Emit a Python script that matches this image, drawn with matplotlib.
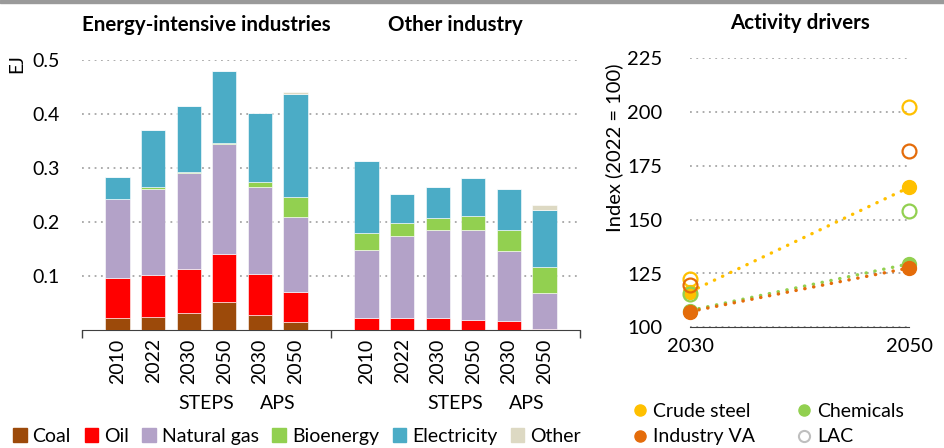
import numpy as np
import matplotlib.pyplot as plt
from matplotlib.lines import Line2D
from matplotlib.patches import Patch, Rectangle

plt.rcParams['font.family'] = ['Lato', 'DejaVu Sans']

# final energy use (EJ) by fuel, bars: 2010, 2022, 2030/2050 STEPS, 2030/2050 APS
years = ['2010', '2022', '2030', '2050', '2030', '2050']
fuels = ['Coal', 'Oil', 'Natural gas', 'Bioenergy', 'Electricity', 'Other']
fuel_colors = ['#9C4A0A', '#FF0000', '#B3A2C8', '#92D050', '#4BACC6', '#DDD9C3']

eii_coal = [0.022, 0.024, 0.032, 0.052, 0.028, 0.014]
eii_oil = [0.075, 0.078, 0.081, 0.089, 0.075, 0.056]
eii_gas = [0.145, 0.160, 0.177, 0.203, 0.161, 0.140]
eii_bio = [0.001, 0.002, 0.002, 0.003, 0.010, 0.036]
eii_elec = [0.041, 0.106, 0.122, 0.132, 0.127, 0.191]
eii_other = [0.0, 0.0, 0.0, 0.0, 0.0, 0.004]

oth_coal = [0.0, 0.0, 0.0, 0.0, 0.0, 0.0]
oth_oil = [0.023, 0.023, 0.022, 0.019, 0.017, 0.002]
oth_gas = [0.126, 0.151, 0.163, 0.166, 0.130, 0.067]
oth_bio = [0.031, 0.024, 0.023, 0.026, 0.039, 0.047]
oth_elec = [0.133, 0.053, 0.057, 0.070, 0.075, 0.106]
oth_other = [0.0, 0.0, 0.0, 0.0, 0.0, 0.009]

# activity drivers, index 2022 = 100
drv_years = [2030, 2050]
steel_steps = [116.5, 165.0]
chem_steps = [107.8, 129.5]
va_steps = [107.3, 127.6]
steel_lac = [122.4, 202.5]
chem_lac = [115.3, 153.9]
va_lac = [119.7, 181.9]

c_steel = '#FFC000'
c_chem = '#92D050'
c_va = '#E46C0A'
grid_c = '#A6A6A6'

fig = plt.figure(figsize=(9.45, 4.48), dpi=100)
W, H = 945.0, 448.0

# gray rule along the top edge
fig.patches.append(Rectangle((0, 1 - 3 / H), 1, 3 / H, transform=fig.transFigure,
                             color='#9A9A9A', zorder=0))

# ---- left: stacked bars ----
ax = fig.add_axes([82 / W, 1 - 330 / H, (580 - 82) / W, 270 / H])
x1 = np.arange(6)
x2 = np.arange(6) + 7
groups = [
    (x1, [eii_coal, eii_oil, eii_gas, eii_bio, eii_elec, eii_other]),
    (x2, [oth_coal, oth_oil, oth_gas, oth_bio, oth_elec, oth_other]),
]
for xs, series in groups:
    bottom = np.zeros(6)
    for vals, col in zip(series, fuel_colors):
        ax.bar(xs, vals, 0.68, bottom=bottom, color=col, edgecolor='white',
               linewidth=0.4, zorder=3)
        bottom += np.array(vals)

ax.set_xlim(-1, 13)
ax.set_ylim(0, 0.5)
ax.set_yticks([0.1, 0.2, 0.3, 0.4, 0.5])
ax.set_yticklabels(['0.1', '0.2', '0.3', '0.4', '0.5'])
ax.yaxis.grid(True, color=grid_c, linestyle=(0, (1, 2.5)), linewidth=1.3)
ax.set_axisbelow(True)
ax.tick_params(axis='y', length=0, pad=16, labelsize=14)
ax.set_xticks(np.concatenate([x1, x2]))
ax.set_xticklabels(years + years, rotation=90)
ax.tick_params(axis='x', which='major', length=0, pad=6, labelsize=14)
ax.set_xticks([-1, 6, 13], minor=True)
ax.tick_params(axis='x', which='minor', length=6, width=1, color='#404040')
for s in ['top', 'right', 'left']:
    ax.spines[s].set_visible(False)
ax.spines['bottom'].set_color('#404040')

for xc, lab in [(2.5, 'STEPS'), (4.5, 'APS'), (9.5, 'STEPS'), (11.5, 'APS')]:
    ax.text(xc, -0.274, lab, transform=ax.get_xaxis_transform(), ha='center',
            va='center', fontsize=14)

ax.text(2.5, 1.13, 'Energy-intensive industries', transform=ax.get_xaxis_transform(),
        ha='center', va='center', fontsize=14.8, fontweight='bold')
ax.text(9.5, 1.13, 'Other industry', transform=ax.get_xaxis_transform(),
        ha='center', va='center', fontsize=14.8, fontweight='bold')
fig.text(17 / W, 1 - 64 / H, 'EJ', rotation=90, ha='center', va='center', fontsize=13.5)

handles = [Patch(color=c) for c in fuel_colors]
fig.legend(handles, fuels, loc='center', bbox_to_anchor=(297 / W, 1 - 436 / H),
           ncol=6, frameon=False, fontsize=14, handlelength=0.7, handleheight=0.7,
           handletextpad=0.3, columnspacing=0.7, borderaxespad=0)

# ---- right: activity drivers ----
bx = fig.add_axes([690 / W, 1 - 327.3 / H, (909 - 690) / W, 269 / H])
bx.set_xlim(2030, 2050)
bx.set_ylim(100, 225)
bx.set_yticks([100, 125, 150, 175, 200, 225])
bx.set_xticks(drv_years)
bx.yaxis.grid(True, color=grid_c, linestyle=(0, (1, 2.5)), linewidth=1.3)
bx.set_axisbelow(True)
bx.tick_params(axis='y', length=0, pad=20, labelsize=14.5)
bx.tick_params(axis='x', length=0, pad=8, labelsize=14.5)
for s in ['top', 'right', 'left']:
    bx.spines[s].set_visible(False)
bx.spines['bottom'].set_color('#404040')

dot = (0, (0.1, 2.6))
for vals, col in [(chem_steps, c_chem), (va_steps, c_va), (steel_steps, c_steel)]:
    bx.plot(drv_years, vals, linestyle=dot, color=col, linewidth=2.4,
            dash_capstyle='round', clip_on=False, zorder=3)
for vals, col in [(chem_steps, c_chem), (steel_steps, c_steel), (va_steps, c_va)]:
    bx.plot(drv_years, vals, 'o', color=col, markersize=10, linestyle='none',
            clip_on=False, zorder=4)
for vals, col in [(steel_lac, c_steel), (chem_lac, c_chem), (va_lac, c_va)]:
    bx.plot(drv_years, vals, 'o', markerfacecolor='none', markeredgecolor=col,
            markersize=10, markeredgewidth=1.6, linestyle='none', clip_on=False, zorder=5)

bx.text(0.5, 1.13, 'Activity drivers', transform=bx.transAxes, ha='center',
        va='center', fontsize=14.8, fontweight='bold')
fig.text(614 / W, 1 - 148 / H, 'Index (2022 = 100)', rotation=90, ha='center',
         va='center', fontsize=14.5)

drv_handles = [
    Line2D([], [], marker='o', color=c_steel, linestyle='none', markersize=8),
    Line2D([], [], marker='o', color=c_va, linestyle='none', markersize=8),
    Line2D([], [], marker='o', color=c_chem, linestyle='none', markersize=8),
    Line2D([], [], marker='o', markerfacecolor='white', markeredgecolor='#BFBFBF',
           markeredgewidth=1.5, linestyle='none', markersize=8),
]
fig.legend(drv_handles, ['Crude steel', 'Industry VA', 'Chemicals', 'LAC'],
           loc='center', bbox_to_anchor=(768 / W, 1 - 424 / H), ncol=2,
           frameon=False, fontsize=14, handlelength=0.8, handletextpad=0.3,
           columnspacing=2.1, labelspacing=0.45, borderaxespad=0)

fig.savefig('out.png', dpi=100)
